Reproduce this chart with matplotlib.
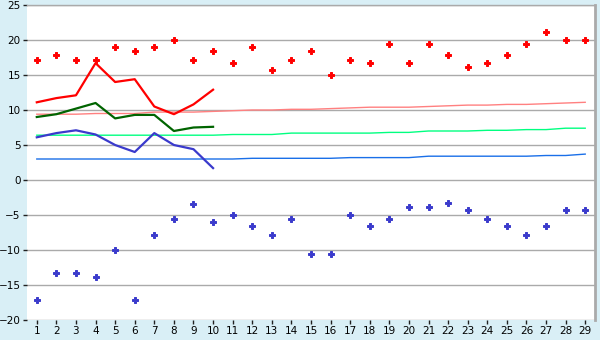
import matplotlib
matplotlib.use("Agg")
import matplotlib.pyplot as plt

# days of the month
days = list(range(1, 30))

# record highs / lows (scatter points)
record_max = [17.2, 17.9, 17.2, 17.2, 19.0, 18.4, 19.0, 20.0, 17.2, 18.4,
              16.7, 19.0, 15.7, 17.2, 18.4, 15.0, 17.2, 16.7, 19.4, 16.7,
              19.4, 17.8, 16.1, 16.7, 17.8, 19.4, 21.1, 20.0, 20.0]
record_min = [-17.2, -13.3, -13.3, -13.9, -10.0, -17.2, -7.8, -5.6, -3.4, -6.0,
              -5.0, -6.6, -7.8, -5.6, -10.6, -10.6, -5.0, -6.6, -5.6, -3.9,
              -3.9, -3.3, -4.3, -5.6, -6.6, -7.8, -6.6, -4.3, -4.3]

# normals (thin lines)
normal_max = [9.4, 9.4, 9.4, 9.5, 9.5, 9.5, 9.7, 9.7, 9.7, 9.8,
              9.9, 10.0, 10.0, 10.1, 10.1, 10.2, 10.3, 10.4, 10.4, 10.4,
              10.5, 10.6, 10.7, 10.7, 10.8, 10.8, 10.9, 11.0, 11.1]
normal_mean = [6.4, 6.4, 6.4, 6.4, 6.4, 6.4, 6.4, 6.4, 6.4, 6.4,
               6.5, 6.5, 6.5, 6.7, 6.7, 6.7, 6.7, 6.7, 6.8, 6.8,
               7.0, 7.0, 7.0, 7.1, 7.1, 7.2, 7.2, 7.4, 7.4]
normal_min = [3.0, 3.0, 3.0, 3.0, 3.0, 3.0, 3.0, 3.0, 3.0, 3.0,
              3.0, 3.1, 3.1, 3.1, 3.1, 3.1, 3.2, 3.2, 3.2, 3.2,
              3.4, 3.4, 3.4, 3.4, 3.4, 3.4, 3.5, 3.5, 3.7]

# observed values (first 10 days)
obs_days = days[:10]
obs_max = [11.1, 11.7, 12.1, 16.7, 14.0, 14.4, 10.5, 9.4, 10.8, 12.9]
obs_mean = [9.0, 9.4, 10.2, 11.0, 8.8, 9.3, 9.3, 7.0, 7.5, 7.6]
obs_min = [6.1, 6.7, 7.1, 6.5, 5.0, 4.0, 6.7, 5.0, 4.4, 1.7]

bg = "#D9EFF6"
fig = plt.figure(figsize=(6, 3.4), dpi=100, facecolor=bg)
ax = fig.add_axes([27 / 600, 1 - 320 / 340, 568 / 600, 315 / 340])
ax.set_facecolor("white")

# normals
ax.plot(days, normal_max, color="#FF8080", lw=1, zorder=2)
ax.plot(days, normal_mean, color="#00FF80", lw=1, zorder=2)
ax.plot(days, normal_min, color="#1A6FE8", lw=1, zorder=2)

# observed
ax.plot(obs_days, obs_max, color="#FF0000", lw=1.6, zorder=3)
ax.plot(obs_days, obs_mean, color="#006400", lw=1.6, zorder=3)
ax.plot(obs_days, obs_min, color="#3A3ACC", lw=1.6, zorder=3)

# records
ax.plot(days, record_max, ls="none", marker="P", ms=4, mew=0.7, color="#FF0000", zorder=4)
ax.plot(days, record_min, ls="none", marker="P", ms=4, mew=0.7, color="#3A3ACC", zorder=4)

ax.set_xlim(0.5, 29.5)
ax.set_ylim(-20, 25)
ax.set_xticks(days)
ax.set_yticks(range(-20, 26, 5))
ax.tick_params(axis="both", labelsize=7.5, length=3, width=1, color="#202020", pad=1.5)
ax.grid(True, axis="y", color="#AAAAAA", lw=1, zorder=0)
ax.set_axisbelow(True)

for side in ["left", "bottom"]:
    ax.spines[side].set_visible(False)
ax.spines["top"].set_color("#AAAAAA")
ax.spines["top"].set_linewidth(1)
ax.spines["right"].set_color("#AAAAAA")
ax.spines["right"].set_linewidth(2)

fig.savefig("out.png", dpi=100, facecolor=bg)
